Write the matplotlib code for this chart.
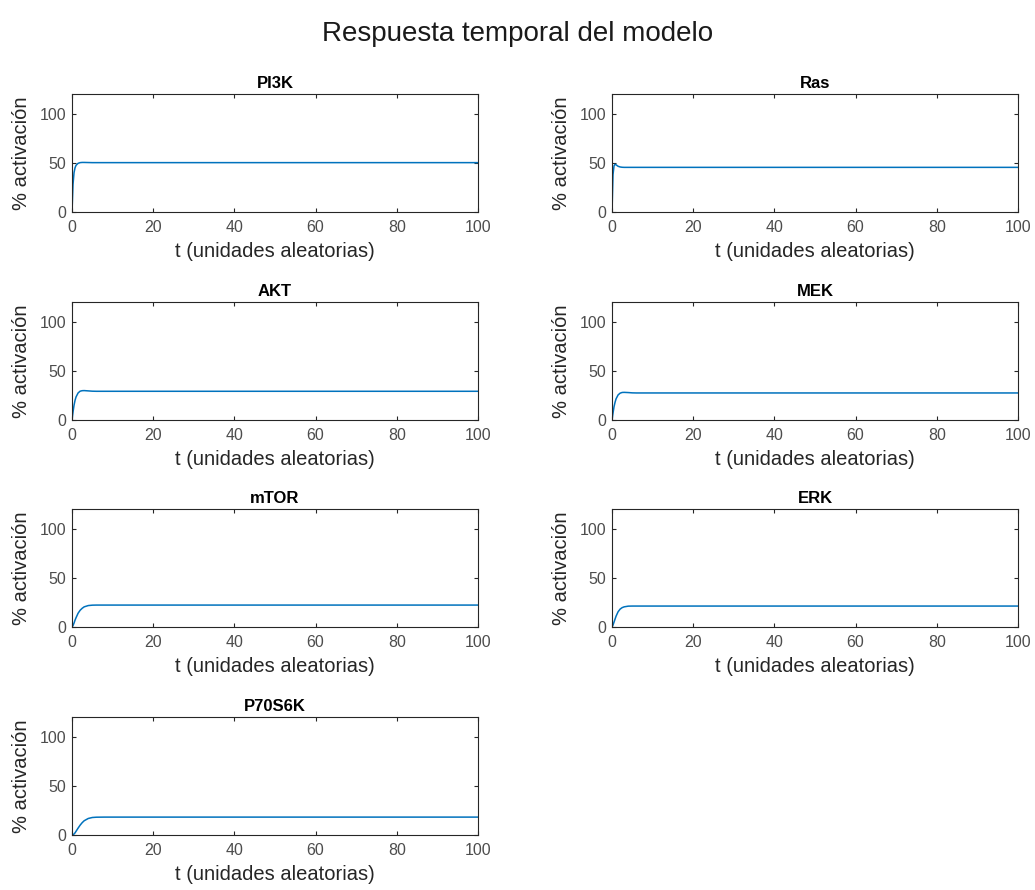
import matplotlib.pyplot as plt

plt.rcParams['font.family'] = ['Liberation Sans', 'DejaVu Sans']

# Time points (arbitrary units) and % activation
t = [0, 0.25, 0.5, 0.75, 1, 1.5, 2, 2.5, 3, 4, 5, 6, 8, 10, 100]

pi3k   = [0, 28, 40, 45, 47.5, 49.5, 50.2, 50.4, 50.4, 50.3, 50.2, 50.2, 50.2, 50.2, 50.2]
ras    = [0, 38, 47, 48.5, 48, 46.5, 45.8, 45.5, 45.4, 45.4, 45.4, 45.4, 45.4, 45.4, 45.4]
akt    = [0, 8, 15, 20, 23.5, 27.5, 29.3, 29.8, 29.9, 29.6, 29.3, 29.2, 29.2, 29.2, 29.2]
mek    = [0, 7, 13.5, 18, 21.5, 25.5, 27.3, 28, 28.1, 27.9, 27.6, 27.5, 27.5, 27.5, 27.5]
mtor   = [0, 1.5, 4, 7, 9.5, 14, 17, 19, 20.5, 21.8, 22.2, 22.3, 22.3, 22.3, 22.3]
erk    = [0, 2, 5, 8, 11, 15.5, 18.2, 19.7, 20.5, 21.2, 21.3, 21.3, 21.3, 21.3, 21.3]
p70s6k = [0, 0.3, 1, 2.2, 3.8, 7, 10, 12.5, 14.5, 16.8, 17.8, 18.1, 18.2, 18.2, 18.2]

names = ['PI3K', 'Ras', 'AKT', 'MEK', 'mTOR', 'ERK', 'P70S6K']
series = [pi3k, ras, akt, mek, mtor, erk, p70s6k]

fig = plt.figure(figsize=(10.35, 8.9), dpi=100)
fig.text(0.5, 0.962, 'Respuesta temporal del modelo', ha='center', va='center',
         fontsize=20, color='#1a1a1a')

lefts = [72 / 1035, 612 / 1035]
width = 406 / 1035
row_bottoms_px = [212, 420, 627, 835]
height = 118 / 890

for i, (name, y) in enumerate(zip(names, series)):
    row, col = divmod(i, 2)
    ax = fig.add_axes([lefts[col], 1 - row_bottoms_px[row] / 890, width, height])
    ax.plot(t, y, color='#0072BD', linewidth=1.1)
    ax.set_xlim(0, 100)
    ax.set_ylim(0, 120)
    ax.set_xticks([0, 20, 40, 60, 80, 100])
    ax.set_yticks([0, 50, 100])
    ax.tick_params(direction='in', length=3, top=True, right=True,
                   labelsize=11.5, colors='#262626', labelcolor='#4d4d4d')
    ax.tick_params(axis='x', pad=6)
    ax.tick_params(axis='y', pad=4)
    for s in ax.spines.values():
        s.set_color('#262626')
        s.set_linewidth(0.8)
    ax.set_title(name, fontsize=12, fontweight='bold', pad=4)
    ax.set_xlabel('t (unidades aleatorias)', fontsize=14.5, color='#262626', labelpad=5)
    ax.set_ylabel('% activación', fontsize=14.5, color='#262626', labelpad=6)

fig.savefig('out.png', dpi=100, facecolor='white')
